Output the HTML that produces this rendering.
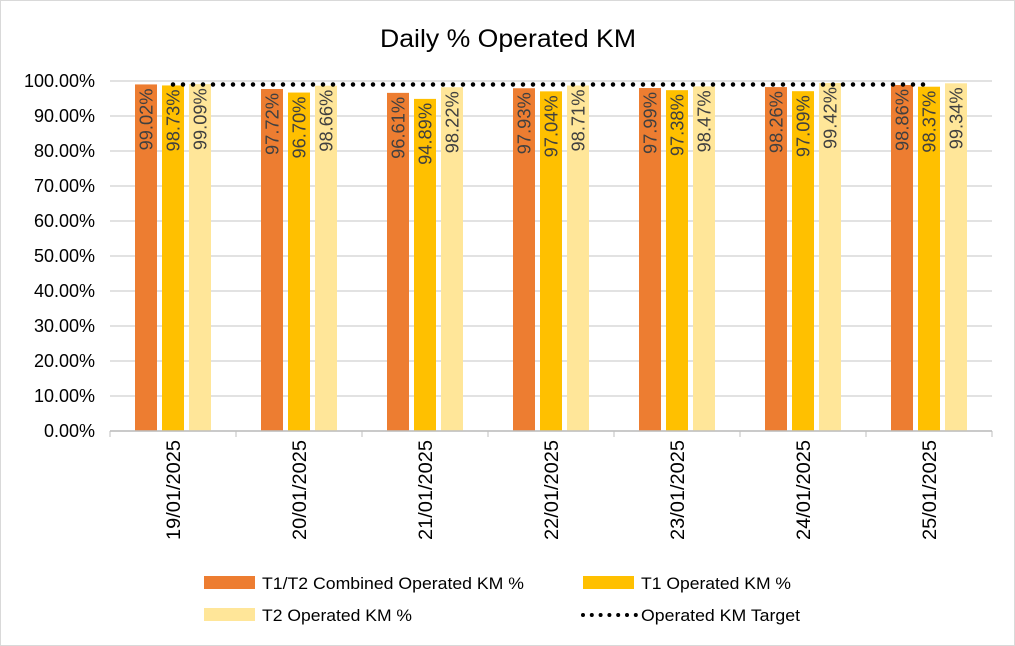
<!DOCTYPE html>
<html><head><meta charset="utf-8"><style>
body{margin:0;background:#fff}
svg{font-family:"Liberation Sans",sans-serif;display:block}
</style></head><body>
<svg id="c" width="1015" height="646">
<rect x="0.5" y="0.5" width="1014" height="645" fill="#fff" stroke="#d9d9d9"/>
<text x="508" y="47" text-anchor="middle" font-size="25" fill="#000" textLength="256" lengthAdjust="spacingAndGlyphs">Daily % Operated KM</text>
<g id="grid"></g><g id="bars"></g><g id="line"></g><g id="axes"></g>
<g font-size="17" fill="#000">
<rect x="204" y="576" width="51" height="13" fill="#ed7d31"/>
<text x="262" y="589" textLength="262" lengthAdjust="spacingAndGlyphs">T1/T2 Combined Operated KM %</text>
<rect x="583" y="576" width="51" height="13" fill="#ffc000"/>
<text x="641" y="589" textLength="150" lengthAdjust="spacingAndGlyphs">T1 Operated KM %</text>
<rect x="204" y="608" width="51" height="13" fill="#ffe699"/>
<text x="262" y="621" textLength="150" lengthAdjust="spacingAndGlyphs">T2 Operated KM %</text>
<line x1="583" y1="615" x2="636" y2="615" stroke="#000" stroke-width="4" stroke-linecap="round" stroke-dasharray="0 8.8"/>
<text x="641" y="621" textLength="159" lengthAdjust="spacingAndGlyphs">Operated KM Target</text>
</g>
</svg>
<script>
const categories=["19/01/2025","20/01/2025","21/01/2025","22/01/2025","23/01/2025","24/01/2025","25/01/2025"];
const combined=[99.02,97.72,96.61,97.93,97.99,98.26,98.86];
const t1=[98.73,96.70,94.89,97.04,97.38,97.09,98.37];
const t2=[99.09,98.66,98.22,98.71,98.47,99.42,99.34];
const target=[99,99,99,99,99,99,99];
const yTicks=[0,10,20,30,40,50,60,70,80,90,100];
const NS="http://www.w3.org/2000/svg";
const X0=110,X1=992,Y0=431,Y1=81;
const band=(X1-X0)/categories.length;
const y=v=>Y0-(v/100)*(Y0-Y1);
const xc=i=>X0+band*(i+0.5);
function mk(t,a,p){const e=document.createElementNS(NS,t);for(const k in a)e.setAttribute(k,a[k]);p.appendChild(e);return e;}
const grid=document.getElementById('grid'),axes=document.getElementById('axes'),bars=document.getElementById('bars'),line=document.getElementById('line');
yTicks.forEach(v=>{
  const l=mk('line',{x1:X0,x2:X1,y1:y(v),y2:y(v),stroke:'#d9d9d9','stroke-width':1.5},grid);
  
  
  const t=mk('text',{x:95,y:y(v)+6,'text-anchor':'end','font-size':18,fill:'#000'},axes);
  t.textContent=v.toFixed(2)+'%';
  
  
});
mk('line',{x1:X0,x2:X1,y1:Y0,y2:Y0,stroke:'#bfbfbf','stroke-width':1.5},axes);
for(let i=0;i<=categories.length;i++){
  const tk=mk('line',{x1:X0+band*i,x2:X0+band*i,y1:Y0,y2:Y0+6,stroke:'#bfbfbf'},axes);
  
  
}
const series=[[combined,'#ed7d31','combined'],[t1,'#ffc000','t1'],[t2,'#ffe699','t2']];
const bw=22,gap=5;
categories.forEach((c,i)=>{
  series.forEach(([arr,col,nm],s)=>{
    const x=xc(i)+(s-1)*(bw+gap)-bw/2;
    const r=mk('rect',{x:x,y:y(arr[i]),width:bw,height:Y0-y(arr[i]),fill:col},bars);
    
    
    const tx=x+bw/2+6.5,ty=y(arr[i])+4;
    const t=mk('text',{x:tx,y:ty,'text-anchor':'end','font-size':18,fill:'#404040',textLength:62,lengthAdjust:'spacingAndGlyphs',transform:`rotate(-90 ${tx} ${ty})`},bars);
    t.textContent=arr[i].toFixed(2)+'%';
    
    
  });
  const lx=xc(i)+7,ly=440;
  const t=mk('text',{x:lx,y:ly,'text-anchor':'end','font-size':19,fill:'#000',textLength:100,lengthAdjust:'spacingAndGlyphs',transform:`rotate(-90 ${lx} ${ly})`},axes);
  t.textContent=c;
  
  
});
const pts=target.map((v,i)=>xc(i)+','+y(v)).join(' ');
const pl=mk('polyline',{points:pts,fill:'none',stroke:'#000','stroke-width':4.5,'stroke-linecap':'round','stroke-dasharray':'0 10'},line);


</script>
</body></html>
